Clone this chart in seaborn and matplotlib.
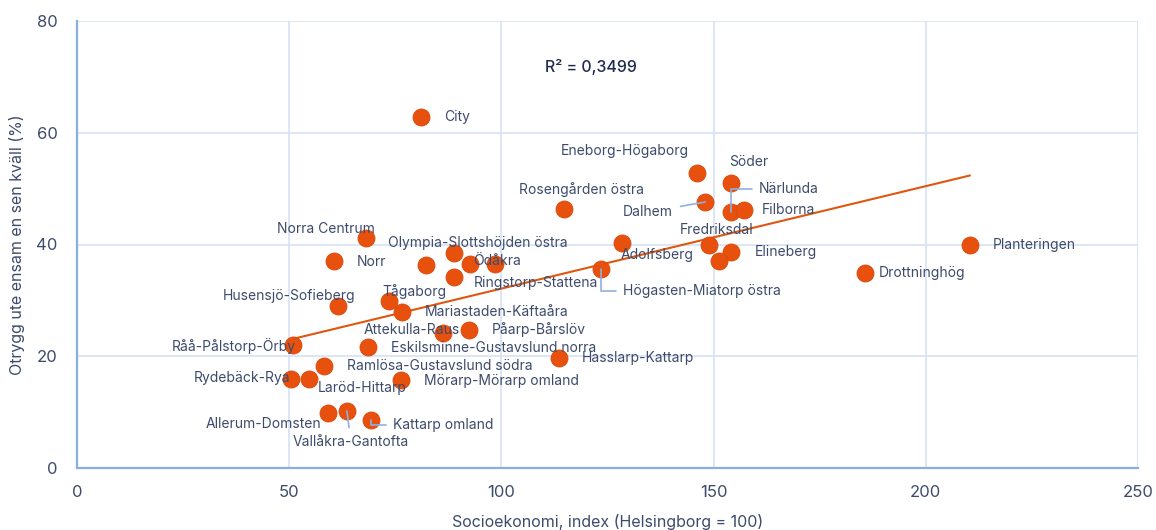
import numpy as np
import pandas as pd
import matplotlib
matplotlib.use('Agg')
import matplotlib.pyplot as plt
import seaborn as sns

# data
names = ['City', 'Eneborg-Högaborg', 'Söder', 'Dalhem', 'Närlunda', 'Filborna',
         'Rosengården östra', 'Norra Centrum', 'Norr', 'Olympia-Slottshöjden östra',
         'Ödåkra', '', '', 'Ringstorp-Stattena', 'Adolfsberg', 'Fredriksdal',
         'Elineberg', '', 'Högasten-Miatorp östra', 'Planteringen', 'Drottninghög',
         'Husensjö-Sofieberg', 'Tågaborg', 'Mariastaden-Käftaåra', 'Attekulla-Raus',
         'Påarp-Bårslöv', 'Råå-Pålstorp-Örby', 'Eskilsminne-Gustavslund norra',
         'Ramlösa-Gustavslund södra', 'Rydebäck-Rya', 'Laröd-Hittarp',
         'Mörarp-Mörarp omland', 'Hasslarp-Kattarp', 'Allerum-Domsten',
         'Vallåkra-Gantofta', 'Kattarp omland']
socio = [81.1, 146.1, 154.1, 148.0, 154.1, 157.2, 114.8, 68.1, 60.6, 88.8,
         98.5, 92.6, 82.2, 88.8, 128.4, 148.9, 154.1, 151.3, 123.5, 210.4, 185.7,
         61.5, 73.5, 76.6, 86.2, 92.4, 50.9, 68.6, 58.2, 50.4, 54.7, 76.3, 113.6,
         59.1, 63.6, 69.3]
otrygg = [62.8, 52.8, 51.0, 47.6, 45.8, 46.2, 46.4, 41.2, 37.1, 38.5,
          36.5, 36.5, 36.3, 34.2, 40.3, 39.9, 38.7, 37.1, 35.6, 39.9, 34.9,
          29.0, 29.9, 27.9, 24.2, 24.7, 22.0, 21.7, 18.3, 15.9, 15.9, 15.8, 19.7,
          9.8, 10.2, 8.6]
r2_text = 'R² = 0,3499'

df = pd.DataFrame({'namn': names, 'socio': socio, 'otrygg': otrygg})

# label placement: offset in pixels from point, alignment
label_pos = {
    'City': (23, 0, 'left'), 'Eneborg-Högaborg': (-8, 22, 'right'),
    'Söder': (-2, 21, 'left'), 'Dalhem': (-32, -10, 'right'),
    'Närlunda': (28, 23, 'left'), 'Filborna': (18, 0, 'left'),
    'Rosengården östra': (17, 19, 'center'), 'Norra Centrum': (9, 9, 'right'),
    'Norr': (23, -1, 'left'), 'Olympia-Slottshöjden östra': (-66, 10, 'left'),
    'Ödåkra': (-22, 3, 'left'), 'Ringstorp-Stattena': (20, -6, 'left'),
    'Adolfsberg': (-1, -12, 'left'), 'Fredriksdal': (-29, 15, 'left'),
    'Elineberg': (24, 0, 'left'), 'Högasten-Miatorp östra': (22, -22, 'left'),
    'Planteringen': (23, 0, 'left'), 'Drottninghög': (14, 0, 'left'),
    'Husensjö-Sofieberg': (17, 10, 'right'), 'Tågaborg': (-7, 9, 'left'),
    'Mariastaden-Käftaåra': (23, 0, 'left'), 'Attekulla-Raus': (-79, 3, 'left'),
    'Påarp-Bårslöv': (23, 0, 'left'), 'Råå-Pålstorp-Örby': (3, -1, 'right'),
    'Eskilsminne-Gustavslund norra': (23, -1, 'left'),
    'Ramlösa-Gustavslund södra': (23, 0, 'left'), 'Rydebäck-Rya': (-1, 1, 'right'),
    'Laröd-Hittarp': (9, -9, 'left'), 'Mörarp-Mörarp omland': (23, -1, 'left'),
    'Hasslarp-Kattarp': (23, 0, 'left'), 'Allerum-Domsten': (-7, -11, 'right'),
    'Vallåkra-Gantofta': (4, -31, 'center'), 'Kattarp omland': (22, -5, 'left'),
}
# leader lines: connection style per label
leaders = {
    'Dalhem': 'arc3',
    'Närlunda': 'angle,angleA=0,angleB=90,rad=0',
    'Högasten-Miatorp östra': 'angle,angleA=0,angleB=90,rad=0',
    'Vallåkra-Gantofta': 'arc3',
    'Kattarp omland': 'angle,angleA=0,angleB=90,rad=0',
}

text_col = '#3d4b6b'
grid_col = '#d6e1f3'
spine_col = '#8aaee0'
dot_col = '#e8500e'

sns.set_theme(style='whitegrid')
plt.rcParams['font.family'] = ['Inter', 'DejaVu Sans']

fig = plt.figure(figsize=(11.56, 5.3), dpi=100)
ax = fig.add_axes([77/1156, 1 - 468/530, (1138-77)/1156, (468-21)/530])

sns.regplot(data=df, x='socio', y='otrygg', scatter=False, ci=None, truncate=True,
            color='#e0560f', line_kws={'lw': 1.5, 'zorder': 2}, ax=ax)
sns.scatterplot(data=df, x='socio', y='otrygg', color=dot_col, s=150,
                edgecolor='#d84a0c', linewidth=0.6, zorder=3, ax=ax)

for _, row in df.iterrows():
    if row['namn'] == '':
        continue
    dx, dy, ha = label_pos[row['namn']]
    arrow = None
    if row['namn'] in leaders:
        arrow = dict(arrowstyle='-', color='#8fb0e2', lw=1.2, shrinkA=3, shrinkB=0,
                     connectionstyle=leaders[row['namn']])
    ax.annotate(row['namn'], (row['socio'], row['otrygg']), xytext=(dx, dy),
                textcoords='offset pixels', ha=ha, va='center', fontsize=10,
                color=text_col, arrowprops=arrow, zorder=4)

ax.text(0.441, 0.897, r2_text, transform=ax.transAxes, ha='left', va='center',
        fontsize=11.5, color='#1f2b4e', fontweight='medium')

ax.set_xlim(0, 250)
ax.set_ylim(0, 80)
ax.set_xticks([0, 50, 100, 150, 200, 250])
ax.set_yticks([0, 20, 40, 60, 80])
ax.grid(True, color=grid_col, lw=1.2)
ax.set_facecolor('white')
for side in ['top', 'right']:
    ax.spines[side].set_visible(False)
for side in ['left', 'bottom']:
    ax.spines[side].set_color(spine_col)
    ax.spines[side].set_linewidth(1.6)
ax.tick_params(axis='both', length=0, labelsize=12, colors=text_col)
ax.tick_params(axis='x', pad=12)
ax.tick_params(axis='y', pad=14)
ax.set_xlabel('Socioekonomi, index (Helsingborg = 100)', fontsize=11.5, color=text_col, labelpad=10)
ax.set_ylabel('Otrygg ute ensam en sen kväll (%)', fontsize=11.5, color=text_col, labelpad=8)

fig.savefig('out.png', dpi=100)
